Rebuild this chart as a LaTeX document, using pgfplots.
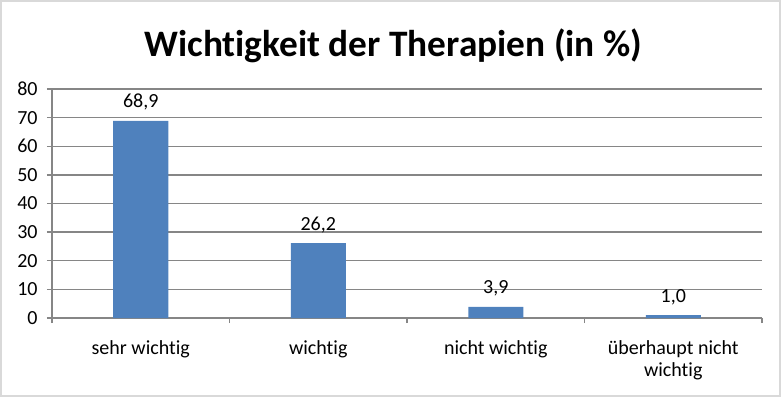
\documentclass[border=0pt]{standalone}
\usepackage{pgfplots}
\pgfplotsset{compat=1.18}
\usepackage{fontspec}
\setmainfont{Carlito}[Ligatures=NoCommon]
\definecolor{barblue}{HTML}{4F81BD}
\definecolor{gridgray}{HTML}{868686}
\definecolor{framegray}{HTML}{D9D9D9}
\begin{document}
\begin{tikzpicture}
\path[use as bounding box] (0,0) rectangle (585.75pt,297.75pt);
\draw[framegray, line width=1.5pt] (0.75pt,0.75pt) rectangle (585pt,297pt);
\node[anchor=base, font=\fontsize{28}{33}\selectfont\bfseries] at (295pt,255pt) {Wichtigkeit der Therapien (in \%)};
\begin{axis}[
  at={(39pt,59.25pt)}, anchor=south west, scale only axis,
  width=532.5pt, height=171.75pt,
  xmin=-0.5, xmax=3.5, ymin=0, ymax=80,
  ytick={0,10,...,80},
  xtick={0,1,2,3},
  xticklabels={sehr wichtig, wichtig, nicht wichtig, {überhaupt nicht\\wichtig}},
  minor xtick={-0.5,0.5,1.5,2.5,3.5},
  every major x tick/.append style={draw=none},
  ymajorgrids, grid style={gridgray, line width=1pt},
  axis x line*=bottom, axis y line*=left,
  axis line style={gridgray, line width=1pt},
  tick style={gridgray, line width=1pt},
  tick align=outside,
  major tick length=3.75pt, minor tick length=3.75pt,
  ticklabel style={font=\fontsize{15}{16.5}\selectfont},
  xticklabel style={align=center, anchor=north, yshift=-9.75pt},
  yticklabel style={anchor=east, xshift=-3.5pt},
  /pgf/number format/assume math mode=true,
  ybar, bar width=41.25pt,
  nodes near coords,
  nodes near coords style={font=\fontsize{15}{18}\selectfont, yshift=4.25pt,
    /pgf/number format/.cd, fixed, fixed zerofill, precision=1, use comma, assume math mode=true},
]
\addplot[fill=barblue, draw=none] coordinates {(0,68.9) (1,26.2) (2,3.9) (3,1.0)};
\end{axis}
\end{tikzpicture}
\end{document}
